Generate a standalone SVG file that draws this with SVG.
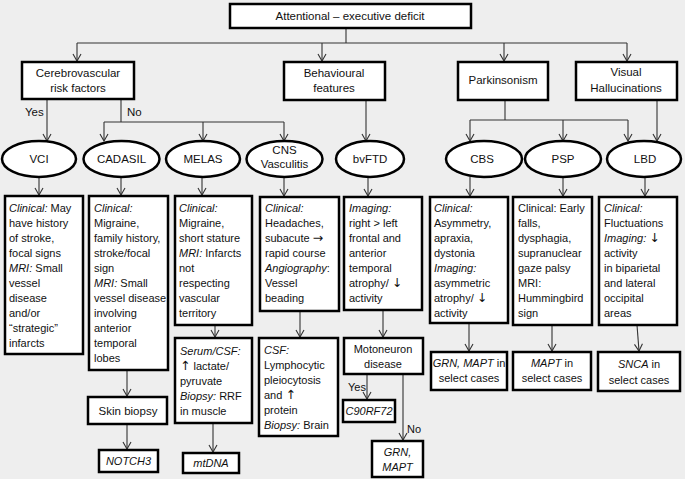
<svg xmlns="http://www.w3.org/2000/svg" width="685" height="479" viewBox="0 0 685 479">
<style>
text{font-family:"Liberation Sans",Arial,sans-serif;font-size:11px;fill:#111}
.c{text-anchor:middle}
.i{font-style:italic}
.h{font-size:11.5px}
.u{font-family:"DejaVu Sans",sans-serif;font-size:12.5px}
.b{fill:#fff;stroke:#000;stroke-width:2.5}
.e{fill:#fff;stroke:#000;stroke-width:2.5}
.l{fill:none;stroke:#333;stroke-width:1.1}
.ar{marker-end:url(#a)}
</style>
<defs>
<marker id="a" markerWidth="10" markerHeight="10" refX="9" refY="5" orient="auto" markerUnits="userSpaceOnUse">
<path d="M2,1 L9,5 L2,9" fill="none" stroke="#333" stroke-width="1.1"/>
</marker>
</defs>
<rect width="685" height="479" fill="#eeeeee"/>

<g id="connectors">
<path class="l" d="M346,28 V43 M77,43 H627"/>
<path class="l ar" d="M77,43 V61"/>
<path class="l ar" d="M322,43 V61"/>
<path class="l ar" d="M504,43 V61"/>
<path class="l ar" d="M627,43 V61"/>
<path class="l ar" d="M47,99 V141"/>
<path class="l" d="M121,99 V122 M104,122 H284"/>
<path class="l ar" d="M104,122 V141"/>
<path class="l ar" d="M203,122 V141"/>
<path class="l ar" d="M284,122 V141"/>
<path class="l ar" d="M366,100 V141"/>
<path class="l" d="M505,100 V120 M470,120 H628"/>
<path class="l ar" d="M470,120 V141"/>
<path class="l ar" d="M563,120 V141"/>
<path class="l ar" d="M628,120 V141"/>
<path class="l ar" d="M657,100 V141"/>
<path class="l ar" d="M39,177 V195"/>
<path class="l ar" d="M121,177 V195"/>
<path class="l ar" d="M202,177 V195"/>
<path class="l ar" d="M284,177 V196"/>
<path class="l ar" d="M368,177 V196"/>
<path class="l ar" d="M470,177 V196"/>
<path class="l ar" d="M563,177 V196"/>
<path class="l ar" d="M645,177 V196"/>
<path class="l ar" d="M215,325 V337"/>
<path class="l ar" d="M127,370 V396"/>
<path class="l ar" d="M127,424 V449"/>
<path class="l ar" d="M213,423 V452"/>
<path class="l ar" d="M300,311 V337"/>
<path class="l ar" d="M383,310 V337"/>
<path class="l ar" d="M367,374 V399"/>
<path class="l ar" d="M403,374 V440"/>
<path class="l ar" d="M469,323 V351"/>
<path class="l ar" d="M552,325 V351"/>
<path class="l ar" d="M637,325 L639,351"/>
<text x="25" y="116" class="h">Yes</text>
<text x="127" y="116" class="h">No</text>
<text x="348" y="391">Yes</text>
<text x="407" y="433">No</text>
</g>

<g id="top"><rect class="b" x="230" y="4" width="241" height="24"/><text class="c h" x="350" y="20">Attentional – executive deficit</text></g>
<g id="cerebro"><rect class="b" x="22" y="62" width="112" height="37"/><text class="c h" x="78" y="77">Cerebrovascular</text><text class="c h" x="78" y="92">risk factors</text></g>
<g id="behav"><rect class="b" x="284" y="62" width="101" height="38"/><text class="c h" x="334" y="77">Behavioural</text><text class="c h" x="334" y="92">features</text></g>
<g id="parkin"><rect class="b" x="458" y="62" width="90" height="38"/><text class="c h" x="503" y="84">Parkinsonism</text></g>
<g id="visual"><rect class="b" x="576" y="62" width="101" height="38"/><text class="c h" x="626" y="76">Visual</text><text class="c h" x="626" y="92">Hallucinations</text></g>

<g id="vci"><ellipse class="e" cx="39" cy="159" rx="37" ry="18"/><text class="c h" x="39" y="163">VCI</text></g>
<g id="cadasil"><ellipse class="e" cx="121.5" cy="159" rx="38" ry="18"/><text class="c h" x="121.5" y="163">CADASIL</text></g>
<g id="melas"><ellipse class="e" cx="203" cy="159" rx="37" ry="18"/><text class="c h" x="203" y="163">MELAS</text></g>
<g id="cns"><ellipse class="e" cx="284.5" cy="159" rx="38" ry="18"/><text class="c h" x="284.5" y="154">CNS</text><text class="c h" x="284.5" y="168">Vasculitis</text></g>
<g id="bvftd"><ellipse class="e" cx="370" cy="159" rx="34" ry="18"/><text class="c h" x="370" y="163">bvFTD</text></g>
<g id="cbs"><ellipse class="e" cx="484" cy="159" rx="38" ry="18"/><text class="c h" x="482" y="163">CBS</text></g>
<g id="psp"><ellipse class="e" cx="563" cy="159" rx="38" ry="18"/><text class="c h" x="563" y="163">PSP</text></g>
<g id="lbd"><ellipse class="e" cx="644" cy="159" rx="37" ry="18"/><text class="c h" x="645" y="163">LBD</text></g>

<g id="vci-box"><rect class="b" x="5" y="196" width="78" height="158"/>
<text x="9" y="212"><tspan class="i">Clinical:</tspan> May</text>
<text x="9" y="227">have history</text>
<text x="9" y="242">of stroke,</text>
<text x="9" y="257">focal signs</text>
<text x="9" y="272"><tspan class="i">MRI:</tspan> Small</text>
<text x="9" y="287">vessel</text>
<text x="9" y="302">disease</text>
<text x="9" y="317">and/or</text>
<text x="9" y="332">“strategic”</text>
<text x="9" y="347">infarcts</text>
</g>
<g id="cadasil-box"><rect class="b" x="89" y="196" width="79" height="174"/>
<text x="94" y="212" class="i">Clinical:</text>
<text x="94" y="227">Migraine,</text>
<text x="94" y="242">family history,</text>
<text x="94" y="257">stroke/focal</text>
<text x="94" y="272">sign</text>
<text x="94" y="287"><tspan class="i">MRI:</tspan> Small</text>
<text x="94" y="302">vessel disease</text>
<text x="94" y="317">involving</text>
<text x="94" y="332">anterior</text>
<text x="94" y="347">temporal</text>
<text x="94" y="362">lobes</text>
</g>
<g id="melas-box"><rect class="b" x="175" y="196" width="77" height="129"/>
<text x="179" y="212" class="i">Clinical:</text>
<text x="179" y="227">Migraine,</text>
<text x="179" y="242">short  stature</text>
<text x="179" y="257"><tspan class="i">MRI:</tspan> Infarcts</text>
<text x="179" y="272">not</text>
<text x="179" y="287">respecting</text>
<text x="179" y="302">vascular</text>
<text x="179" y="317">territory</text>
</g>
<g id="cns-box"><rect class="b" x="260" y="197" width="79" height="114"/>
<text x="265" y="212" class="i">Clinical:</text>
<text x="265" y="227">Headaches,</text>
<text x="265" y="242">subacute <tspan class="u">→</tspan></text>
<text x="265" y="257">rapid course</text>
<text x="265" y="272"><tspan class="i">Angiography</tspan>:</text>
<text x="265" y="287">Vessel</text>
<text x="265" y="302">beading</text>
</g>
<g id="bvftd-box"><rect class="b" x="344" y="197" width="78" height="113"/>
<text x="349" y="212" class="i">Imaging:</text>
<text x="349" y="227">right &gt; left</text>
<text x="349" y="242">frontal and</text>
<text x="349" y="257">anterior</text>
<text x="349" y="272">temporal</text>
<text x="349" y="287">atrophy/ <tspan class="u">↓</tspan></text>
<text x="349" y="302">activity</text>
</g>
<g id="cbs-box"><rect class="b" x="430" y="197" width="78" height="126"/>
<text x="434" y="212" class="i">Clinical:</text>
<text x="434" y="227">Asymmetry,</text>
<text x="434" y="242">apraxia,</text>
<text x="434" y="257">dystonia</text>
<text x="434" y="272" class="i">Imaging:</text>
<text x="434" y="287">asymmetric</text>
<text x="434" y="302">atrophy/ <tspan class="u">↓</tspan></text>
<text x="434" y="317">activity</text>
</g>
<g id="psp-box"><rect class="b" x="513" y="197" width="79" height="128"/>
<text x="518" y="212">Clinical: Early</text>
<text x="518" y="227">falls,</text>
<text x="518" y="242">dysphagia,</text>
<text x="518" y="257">supranuclear</text>
<text x="518" y="272">gaze palsy</text>
<text x="518" y="287">MRI:</text>
<text x="518" y="302">Hummingbird</text>
<text x="518" y="317">sign</text>
</g>
<g id="lbd-box"><rect class="b" x="599" y="197" width="78" height="128"/>
<text x="604" y="212" class="i">Clinical:</text>
<text x="604" y="227">Fluctuations</text>
<text x="604" y="242"><tspan class="i">Imaging:</tspan> <tspan class="u">↓</tspan></text>
<text x="604" y="257">activity</text>
<text x="604" y="272">in biparietal</text>
<text x="604" y="287">and lateral</text>
<text x="604" y="302">occipital</text>
<text x="604" y="317">areas</text>
</g>

<g id="skin"><rect class="b" x="88" y="397" width="79" height="27"/><text class="c h" x="128" y="415">Skin biopsy</text></g>
<g id="notch3"><rect class="b" x="99" y="450" width="59" height="22"/><text class="c i" x="128.5" y="465">NOTCH3</text></g>
<g id="serum"><rect class="b" x="175" y="338" width="77" height="85"/>
<text x="180" y="355" class="i">Serum/CSF:</text>
<text x="180" y="370"><tspan class="u">↑</tspan> lactate/</text>
<text x="180" y="385">pyruvate</text>
<text x="180" y="400"><tspan class="i">Biopsy:</tspan> RRF</text>
<text x="180" y="415">in muscle</text>
</g>
<g id="mtdna"><rect class="b" x="183" y="453" width="56" height="20"/><text class="c i" x="211" y="467">mtDNA</text></g>
<g id="csf"><rect class="b" x="259" y="338" width="79" height="98"/>
<text x="264" y="354" class="i">CSF:</text>
<text x="264" y="369">Lymphocytic</text>
<text x="264" y="384">pleiocytosis</text>
<text x="264" y="399">and <tspan class="u">↑</tspan></text>
<text x="264" y="414">protein</text>
<text x="264" y="429"><tspan class="i">Biopsy:</tspan> Brain</text>
</g>
<g id="motoneuron"><rect class="b" x="344" y="338" width="79" height="36"/><text class="c" x="383" y="353">Motoneuron</text><text class="c" x="383" y="368">disease</text></g>
<g id="c9"><rect class="b" x="343" y="400" width="52" height="22"/><text class="c i" x="369" y="415">C90RF72</text></g>
<g id="grn-mapt"><rect class="b" x="372" y="441" width="51" height="36"/><text class="c i" x="397.5" y="456">GRN,</text><text class="c i" x="397.5" y="471">MAPT</text></g>
<g id="cbs-gen"><rect class="b" x="431" y="352" width="76" height="38"/><text class="c" x="469" y="367"><tspan class="i">GRN, MAPT</tspan> in</text><text class="c" x="469" y="382">select cases</text></g>
<g id="psp-gen"><rect class="b" x="513" y="352" width="78" height="38"/><text class="c" x="552" y="367"><tspan class="i">MAPT</tspan> in</text><text class="c" x="552" y="382">select cases</text></g>
<g id="lbd-gen"><rect class="b" x="598" y="352" width="82" height="39"/><text class="c" x="639" y="368"><tspan class="i">SNCA</tspan> in</text><text class="c" x="639" y="384">select cases</text></g>
</svg>
